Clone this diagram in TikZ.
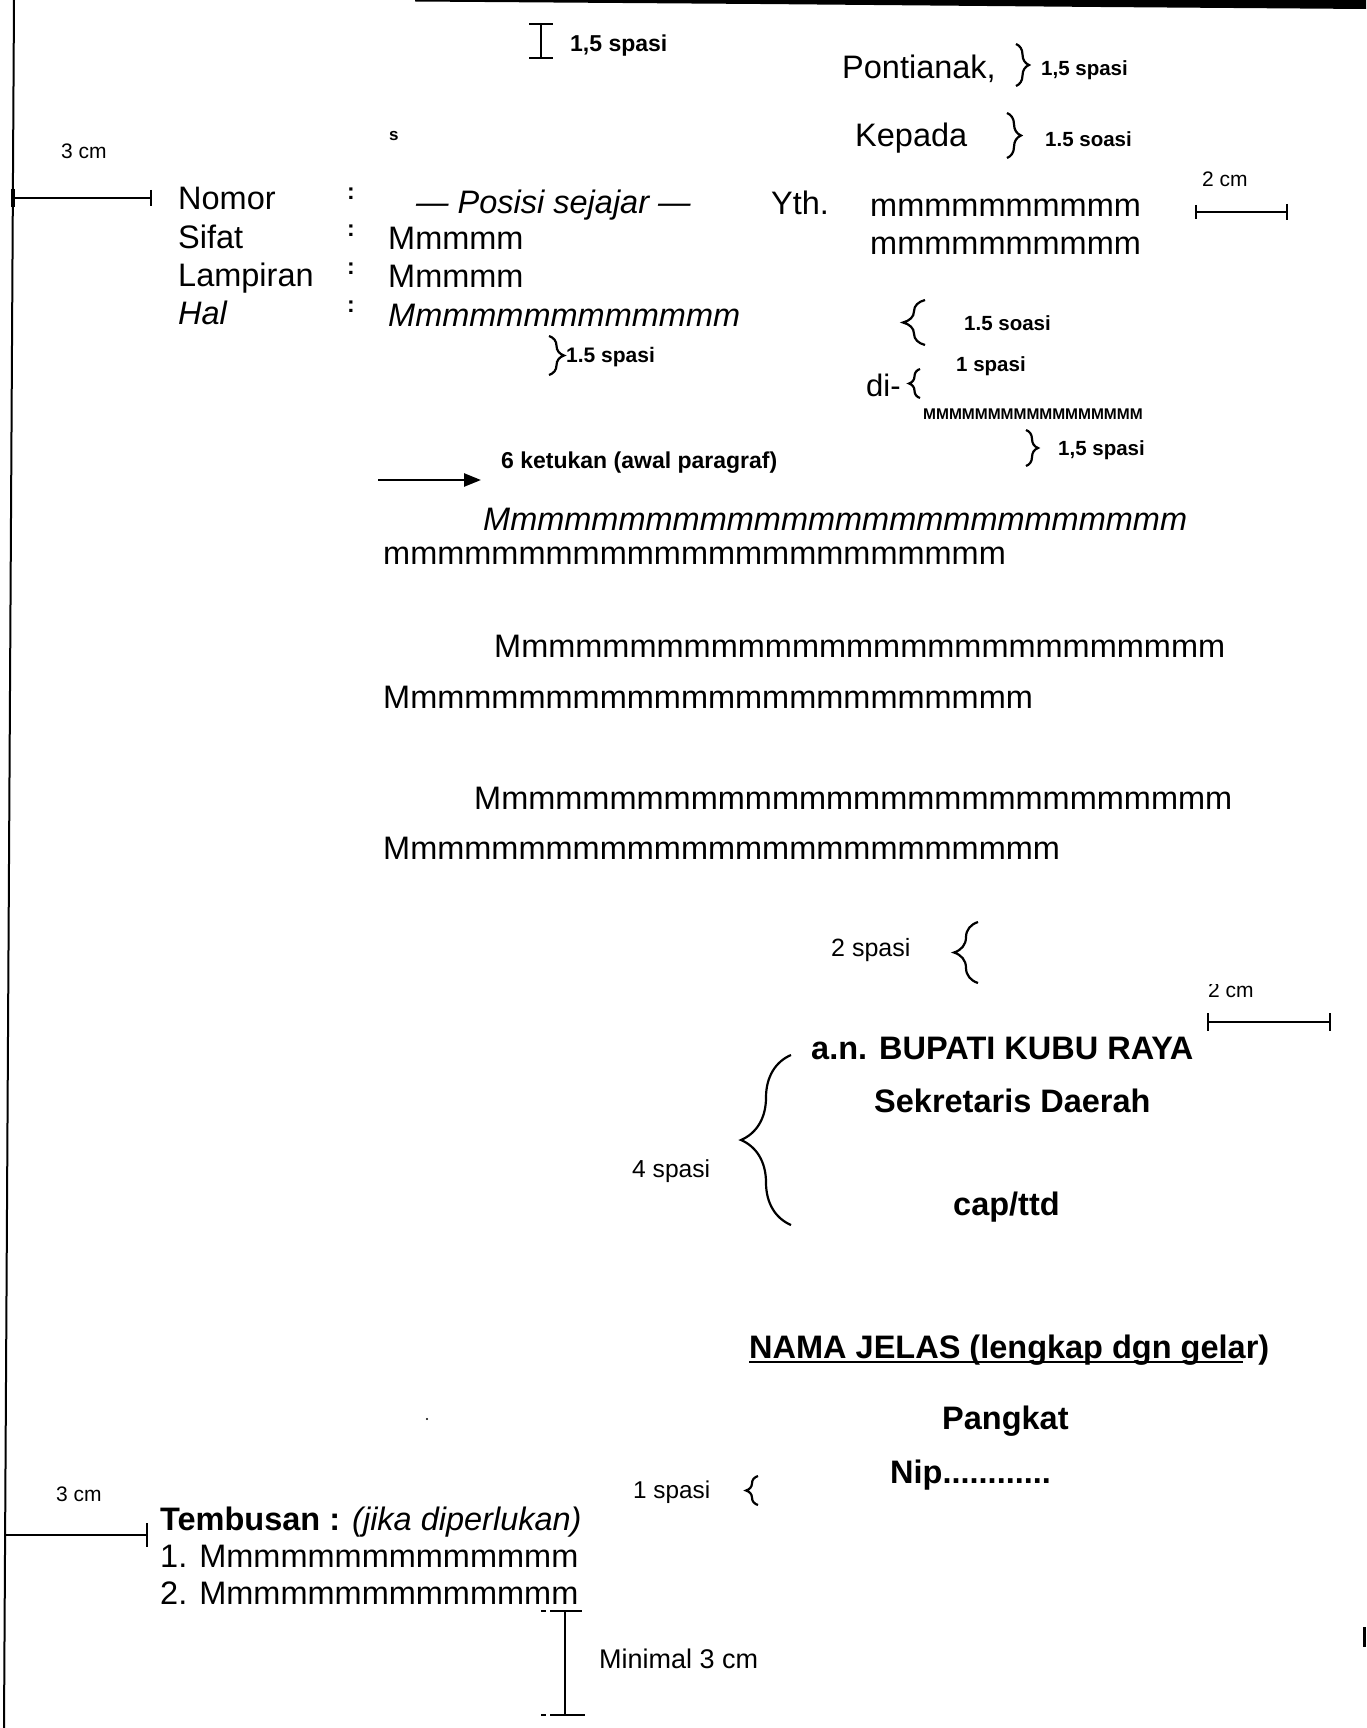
\documentclass[tikz,border=0pt]{standalone}
\usepackage{fontspec}
\setmainfont{Liberation Sans}
\usetikzlibrary{decorations.pathreplacing,arrows.meta}
\ExplSyntaxOn
\cs_new:Npn \myrep #1#2 {\prg_replicate:nn{#1}{#2}}
\ExplSyntaxOff
\begin{document}
\begin{tikzpicture}[x=1pt,y=-1pt,
  txt/.style={inner sep=0pt, anchor=base west},
  body/.style={txt, font=\fontsize{32.5}{38}\selectfont},
  bodyit/.style={txt, font=\fontsize{32.5}{38}\selectfont\itshape},
  bodyb/.style={txt, font=\fontsize{32.5}{38}\selectfont\bfseries},
  lbl/.style={txt, font=\fontsize{#1}{#1}\selectfont\bfseries},
  lbl/.default=20.5,
  lblr/.style={txt, font=\fontsize{#1}{#1}\selectfont},
  lblr/.default=21,
  colon/.style={inner sep=0pt, anchor=center, font=\fontsize{23}{23}\selectfont\bfseries},
  brc/.style={decorate, decoration={brace, amplitude=#1}, line width=2.2pt},
  dimln/.style={line width=2.2pt},
  tick/.style={line width=2pt},
  ibeam/.style={line width=2.2pt}
]
\useasboundingbox (0,0) rectangle (1366,1728);

% page edges (scan)
\fill (415,0) -- (1366,0) -- (1366,9) -- (1100,7) -- (760,4) -- (415,1.5) -- cycle;
\draw[line width=2pt] (14,0) -- (4,1728);
\fill (1363,1627) rectangle (1366,1647);
\fill (427,1419) circle (1.2);

% top I-beam
\draw[ibeam] (541,24) -- (541,58);
\draw[ibeam] (529,24) -- (553,24);
\draw[ibeam] (529,58) -- (553,58);
\node[lbl=23] (sp1) at (570,52) {1,5 spasi};

% Pontianak / Kepada
\node[body] (pont) at (842,79) {Pontianak,};
\draw[brc=13] (1016,44) -- (1016,86);
\node[lbl] (sp2) at (1041,76) {1,5 spasi};
\node[lbl=17] (s) at (389,141) {s};
\node[body] (kep) at (855,147) {Kepada};
\draw[brc=14] (1007,113) -- (1007,158);
\node[lbl] (sp3) at (1045,146.5) {1.5 soasi};

% left margin 3 cm
\node[lblr] (cm3a) at (61,158.6) {3 cm};
\coordinate (dl1) at (13,198);
\coordinate (dl2) at (151,198);
\draw[dimln] (dl1) -- (dl2);
\draw[tick] (151,190) -- (151,206);
\draw[line width=3.5pt] (13,189) -- (13,207);

% header block
\node[body] (nomor) at (178,210) {Nomor};
\node[body] (sifat) at (178,248.5) {Sifat};
\node[body] (lamp) at (178,286) {Lampiran};
\node[bodyit] (hal) at (178,324) {Hal};
\node[colon] (c1) at (351,194) {:};
\node[colon] (c2) at (351,231) {:};
\node[colon] (c3) at (351,269) {:};
\node[colon] (c4) at (351,307) {:};
\node[bodyit] (posisi) at (416,213.7) {— Posisi sejajar —};
\node[body] (v1) at (388,250) {Mmmmm};
\node[body] (v2) at (388,287.5) {Mmmmm};
\node[bodyit] (v3) at (388,326) {M\myrep{12}{m}};
\draw[brc=15] (549,336) -- (549,375);
\node[lbl=21] (sp4) at (566,362.5) {1.5 spasi};

% address
\node[body] (yth) at (771,215) {Yth.};
\node[body] (m1) at (870,217) {\myrep{10}{m}};
\node[body] (m2) at (870,254.5) {\myrep{10}{m}};
\node[lblr] (cm2a) at (1202,187) {2 cm};
\draw[dimln] (1196,212) -- (1287,212);
\draw[tick] (1196,205) -- (1196,219);
\draw[tick] (1287,204) -- (1287,220);
\draw[brc=22] (925,345) -- (925,300);
\node[lbl] (sp5) at (964,330.5) {1.5 soasi};
\node[lbl] (sp6) at (956,371) {1 spasi};
\node[txt, font=\fontsize{31}{34}\selectfont] (di) at (866,396.6) {di-};
\draw[brc=11] (920,398) -- (920,369);
\node[lbl=15.5] (mm) at (923,419.7) {\myrep{17}{M}};
\draw[brc=12] (1026,430) -- (1026,466);
\node[lbl] (sp7) at (1058,455) {1,5 spasi};

% paragraph arrow
\coordinate (a0) at (378,480);
\coordinate (a1) at (481,480);
\draw[line width=2.5pt, -{Triangle[length=17pt,width=13pt]}] (a0) -- (a1);
\node[lbl=23] (ket) at (501,468) {6 ketukan (awal paragraf)};

% paragraphs
\node[bodyit] (p1) at (483,530) {M\myrep{25}{m}};
\node[body] (p2) at (383,564) {\myrep{23}{m}};
\node[body] (p3) at (494,657.6) {M\myrep{26}{m}};
\node[body] (p4) at (383,708) {M\myrep{23}{m}};
\node[body] (p5) at (474,809.7) {M\myrep{27}{m}};
\node[body] (p6) at (383,859) {M\myrep{24}{m}};

% signature block
\node[lblr=25] (sp8) at (831,956) {2 spasi};
\draw[brc=24] (978,983) -- (978,922);
\begin{scope}
  \clip (1195,984) rectangle (1290,1010);
  \node[lblr] (cm2b) at (1208,997) {2 cm};
\end{scope}
\draw[dimln] (1208,1022) -- (1330,1022);
\draw[tick] (1208,1013) -- (1208,1031);
\draw[tick] (1330,1013) -- (1330,1031);
\node[bodyb] (an) at (811,1059.7) {a.n. BUPATI KUBU RAYA};
\node[bodyb] (sek) at (874,1112.6) {Sekretaris Daerah};
\node[bodyb] (cap) at (953,1215) {cap/ttd};
\draw[brc=50] (791,1225) -- (791,1055);
\node[lblr=24.6] (sp9) at (632,1177.6) {4 spasi};
\node[bodyb] (nama) at (749,1358) {NAMA JELAS (lengkap dgn gelar)};
\draw[line width=2.5pt] ([yshift=-4pt]nama.base west) -- ++(494,0);
\node[bodyb] (pang) at (942,1429) {Pangkat};
\node[bodyb] (nip) at (890,1483) {Nip............};
\node[lblr=24.3] (sp10) at (633,1498) {1 spasi};
\draw[brc=12] (758,1505) -- (758,1476);

% tembusan
\node[lblr] (cm3b) at (56,1501.5) {3 cm};
\node[body] (temb) at (160,1530) {\textbf{Tembusan :} \textit{(jika diperlukan)}};
\draw[dimln] (4.6,1535) -- (147,1535);
\draw[tick] (147,1523) -- (147,1547);
\node[body] (t1) at (160,1567.6) {1. M\myrep{13}{m}};
\node[body] (t2) at (160,1604) {2. M\myrep{13}{m}};

% bottom margin
\draw[ibeam] (565,1611) -- (565,1715);
\draw[ibeam] (550,1611) -- (582,1611);
\draw[ibeam] (550,1715) -- (585,1715);
\draw[ibeam] (541,1611) -- (546,1611);
\draw[ibeam] (541,1715) -- (546,1715);
\node[lblr=27] (min) at (599,1668) {Minimal 3 cm};
\end{tikzpicture}
\end{document}
